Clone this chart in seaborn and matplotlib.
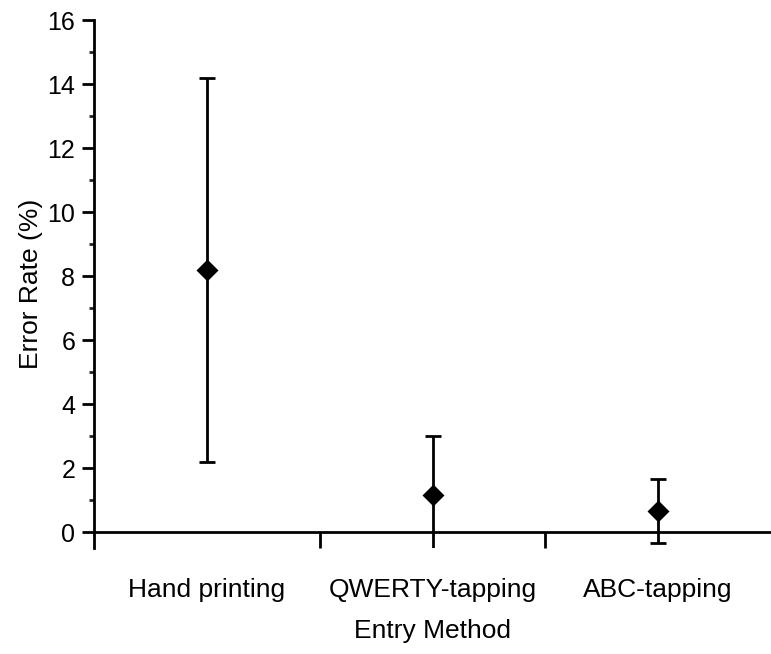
import matplotlib
matplotlib.use("Agg")
import matplotlib.pyplot as plt
import seaborn as sns
import numpy as np
import pandas as pd

methods = ["Hand printing", "QWERTY-tapping", "ABC-tapping"]
means = [8.2, 1.15, 0.65]
lower = [2.2, -0.65, -0.35]
upper = [14.2, 3.0, 1.65]
yticks = [0, 2, 4, 6, 8, 10, 12, 14, 16]

sns.set_theme(style="white")
plt.rcParams["font.family"] = ["Liberation Sans", "DejaVu Sans"]

fig = plt.figure(figsize=(7.71, 6.54), dpi=100)
ax = fig.add_axes([0.122, 0.162, 0.878, 0.807])

df = pd.DataFrame({"method": methods, "rate": means})
sns.pointplot(data=df, x="method", y="rate", order=methods, linestyle="none",
              marker="D", markersize=9, color="black", errorbar=None, ax=ax, zorder=5)

pos = np.arange(len(methods))
m = np.array(means)
err = np.vstack([m - np.array(lower), np.array(upper) - m])
ax.errorbar(pos, m, yerr=err, fmt="none", ecolor="black", elinewidth=2,
            capsize=5.5, capthick=2, zorder=4)

ax.set_xlim(-0.5, 2.5)
ax.set_ylim(-0.5, 16)
ax.set_yticks(yticks)
ax.set_yticks(np.arange(1, 16, 2), minor=True)
ax.set_xticks(pos)
ax.set_xticklabels(methods)
ax.set_xticks([0.5, 1.5], minor=True)

for s in ["top", "right"]:
    ax.spines[s].set_visible(False)
ax.spines["bottom"].set_position(("data", 0))
ax.spines["bottom"].set_linewidth(2)
ax.spines["left"].set_linewidth(2)
ax.spines["bottom"].set_color("black")
ax.spines["left"].set_color("black")

ax.tick_params(axis="y", which="major", direction="out", length=8.5, width=2,
               labelsize=18, pad=5, left=True, colors="black")
ax.tick_params(axis="y", which="minor", direction="out", length=3.5, width=2, left=True)
ax.tick_params(axis="x", which="major", length=0, pad=33, labelsize=19, colors="black")
ax.tick_params(axis="x", which="minor", direction="out", length=11.5, width=2,
               bottom=True, color="black")

ax.set_xlabel("Entry Method", fontsize=19, labelpad=12, color="black")
ax.set_ylabel("Error Rate (%)", fontsize=19, labelpad=3, color="black")
ax.grid(False)

fig.savefig("out.png", dpi=100)
